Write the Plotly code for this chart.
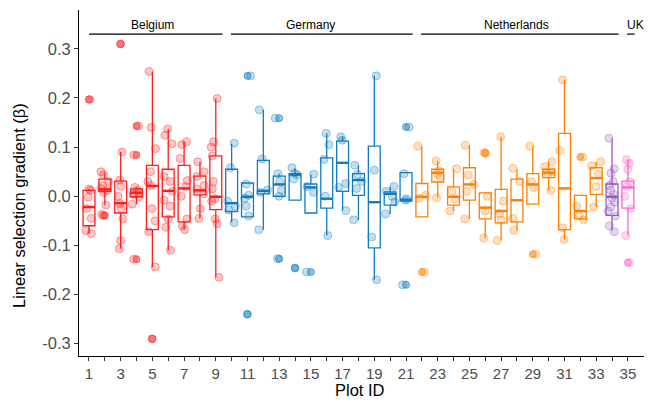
import plotly.graph_objects as go

# ---------------- data ----------------
plot_ids = list(range(1, 36))
country = (["Belgium"] * 9 + ["Germany"] * 12 + ["Netherlands"] * 12 +
           ["Netherlands*"] + ["UK"])

q1 = [-0.060, 0.010, -0.034, -0.001, -0.068, -0.042, -0.052, 0.003, -0.027,
      -0.031, -0.042, 0.005, 0.000, -0.008, -0.034, -0.024, 0.010, 0.002, -0.105, -0.018, -0.010,
      -0.042, 0.029, -0.018, -0.008, -0.046, -0.054, -0.052, -0.016, 0.038, -0.068, -0.046, 0.004,
      -0.039, -0.024]
median = [-0.022, 0.014, -0.014, 0.007, 0.021, 0.011, 0.016, 0.012, -0.001,
          -0.014, -0.001, 0.011, 0.024, 0.044, 0.018, -0.005, 0.068, 0.033, -0.012, 0.005, -0.007,
          -0.001, 0.048, -0.001, 0.024, -0.023, -0.030, -0.008, 0.024, 0.048, 0.016, -0.030, 0.037,
          -0.001, 0.018]
q3 = [0.012, 0.035, 0.031, 0.015, 0.063, 0.055, 0.063, 0.041, 0.082,
      0.055, 0.027, 0.073, 0.041, 0.046, 0.025, 0.078, 0.112, 0.046, 0.102, 0.009, 0.048,
      0.026, 0.055, 0.019, 0.058, 0.007, 0.014, 0.035, 0.046, 0.055, 0.128, 0.002, 0.058,
      0.025, 0.031]
whisker_low = [-0.076, -0.018, -0.107, -0.016, -0.144, -0.110, -0.068, -0.045, -0.165,
               -0.053, -0.042, -0.068, 0.000, -0.008, -0.034, -0.080, -0.029, -0.048, -0.170, -0.036, -0.010,
               -0.042, -0.003, -0.030, -0.046, -0.085, -0.090, -0.069, -0.016, 0.012, -0.088, -0.048, -0.022,
               -0.070, -0.080]
whisker_high = [0.015, 0.048, 0.090, 0.018, 0.254, 0.137, 0.111, 0.070, 0.199,
                0.107, 0.027, 0.176, 0.046, 0.057, 0.044, 0.128, 0.121, 0.063, 0.245, 0.020, 0.048,
                0.102, 0.072, 0.056, 0.104, 0.007, 0.121, 0.055, 0.102, 0.070, 0.237, 0.002, 0.070,
                0.118, 0.075]

points = [
    [0.197, 0.015, 0.012, -0.002, -0.025, -0.045, -0.070, -0.076],
    [0.050, 0.044, 0.030, 0.022, 0.016, 0.012, 0.008, -0.018, -0.039, -0.037],
    [0.310, 0.090, 0.033, 0.020, 0.000, -0.015, -0.025, -0.046, -0.090, -0.107],
    [0.143, 0.084, 0.018, 0.012, 0.008, 0.004, -0.001, -0.016, -0.128],
    [0.254, 0.140, 0.097, 0.050, 0.030, 0.022, -0.025, -0.050, -0.072, -0.144, -0.290],
    [0.137, 0.124, 0.107, 0.040, 0.030, 0.010, -0.008, -0.020, -0.046, -0.063, -0.110],
    [0.111, 0.105, 0.077, 0.032, 0.020, 0.000, -0.046, -0.060, -0.068],
    [0.070, 0.050, 0.040, 0.022, 0.015, 0.005, -0.025, -0.045],
    [0.199, 0.111, 0.100, 0.082, 0.030, 0.015, -0.005, -0.010, -0.046, -0.056, -0.165],
    [0.108, 0.058, -0.010, -0.020, -0.028, -0.054],
    [0.245, 0.025, 0.002, -0.004, -0.020, -0.040, -0.240],
    [0.176, 0.076, 0.013, 0.008, -0.068],
    [0.159, 0.046, 0.030, 0.012, 0.000, -0.127],
    [0.058, 0.047, 0.044, 0.035, -0.146],
    [0.045, 0.020, 0.008, -0.154],
    [0.128, 0.105, 0.075, 0.000, -0.080],
    [0.121, 0.114, 0.026, 0.018, -0.029],
    [0.063, 0.044, 0.030, 0.016, -0.048],
    [0.245, 0.053, -0.083, -0.170],
    [0.020, 0.010, 0.000, -0.012, -0.036],
    [0.141, 0.046, -0.005, -0.008, -0.180],
    [0.102, 0.002, -0.004, -0.154],
    [0.072, 0.052, 0.045, 0.040, -0.003],
    [0.056, 0.010, -0.006, -0.030],
    [0.104, 0.043, 0.024, 0.010, -0.046],
    [0.089, 0.087, 0.000, -0.030, -0.085],
    [0.121, -0.010, -0.035, -0.048, -0.090],
    [0.057, 0.030, -0.045, -0.069],
    [0.102, 0.030, 0.018, -0.118],
    [0.070, 0.060, 0.050, 0.045, 0.012],
    [0.237, 0.093, -0.064, -0.088],
    [0.080, -0.020, -0.040, -0.048],
    [0.070, 0.062, 0.045, 0.020, -0.022],
    [0.118, 0.056, 0.047, 0.030, 0.022, 0.012, 0.004, -0.004, -0.012, -0.022, -0.030, -0.040, -0.060, -0.072],
    [0.075, 0.067, 0.055, 0.030, 0.020, 0.000, -0.025, -0.080, -0.135],
]

outliers = {1: [0.197], 2: [-0.039], 3: [0.310], 4: [0.143, 0.084, -0.128], 5: [-0.290],
            11: [0.245, -0.240], 13: [0.159, -0.127], 14: [-0.146], 15: [-0.154],
            21: [0.141, -0.180], 22: [-0.154], 26: [0.088], 29: [-0.118], 32: [0.080],
            35: [-0.135]}

group_names = ["Belgium", "Germany", "Netherlands", "UK"]
group_first = [1, 10, 22, 35]
group_last = [9, 21, 34, 35]
group_label_x = [5, 15, 28, 35.5]

y_tick_vals = [-0.3, -0.2, -0.1, 0.0, 0.1, 0.2, 0.3]
y_tick_text = ["-0.3", "-0.2", "-0.1", "0.0", "0.1", "0.2", "0.3"]

x_title = "Plot ID"
y_title = "Linear selection gradient (β)"

# ---------------- style ----------------
palette = {"Belgium": (255, 28, 28), "Germany": (16, 124, 192), "Netherlands": (255, 127, 0),
           "Netherlands*": (150, 90, 192), "UK": (255, 102, 204)}
BOX_W = 0.75
OFF = 8                      # default page body margin of the browser
W, H = 652 - OFF, 407 - OFF
ML, MR, MT, MB = 79 - OFF, 0, 10 - OFF, 51
FONT = "Liberation Sans, Arial"


def rgba(c, a):
    return "rgba(%d,%d,%d,%s)" % (c[0], c[1], c[2], a)


def px_to_paper(px, py):
    # px, py: page pixel positions
    px -= OFF
    py -= OFF
    return (px - ML) / (W - ML - MR), (H - MB - py) / (H - MT - MB)


fig = go.Figure()

for key, col in palette.items():
    idx = [i for i, c in enumerate(country) if c == key]
    if not idx:
        continue
    xs, ys = [], []
    for i in idx:
        for v in points[i]:
            xs.append(plot_ids[i])
            ys.append(v)
    fig.add_trace(go.Box(
        x=xs, y=ys, boxpoints="all", jitter=0.8, pointpos=0, width=BOX_W,
        line=dict(width=0, color="rgba(0,0,0,0)"), fillcolor="rgba(0,0,0,0)",
        marker=dict(size=8, color=rgba(col, 0.25), line=dict(color=rgba(col, 0.38), width=1)),
        showlegend=False, hoverinfo="y"))
    ox, oy = [], []
    for i in idx:
        for v in outliers.get(plot_ids[i], []):
            ox.append(plot_ids[i])
            oy.append(v)
    if ox:
        fig.add_trace(go.Scatter(
            x=ox, y=oy, mode="markers",
            marker=dict(size=7, color=rgba(col, 0.45), line=dict(color=rgba(col, 0.6), width=1)),
            showlegend=False))
    fig.add_trace(go.Box(
        x=[plot_ids[i] for i in idx],
        q1=[q1[i] for i in idx], median=[median[i] for i in idx], q3=[q3[i] for i in idx],
        lowerfence=[whisker_low[i] for i in idx], upperfence=[whisker_high[i] for i in idx],
        boxpoints=False, width=BOX_W, whiskerwidth=0,
        line=dict(color=rgba(col, 1), width=1.3), fillcolor="rgba(255,255,255,0)",
        showlegend=False))
    mx, my = [], []
    for i in idx:
        mx += [plot_ids[i] - BOX_W / 2, plot_ids[i] + BOX_W / 2, None]
        my += [median[i], median[i], None]
    fig.add_trace(go.Scatter(x=mx, y=my, mode="lines",
                             line=dict(color=rgba(col, 1), width=2.4),
                             showlegend=False, hoverinfo="skip"))

for name, a, b, lx in zip(group_names, group_first, group_last, group_label_x):
    fig.add_shape(type="line", xref="x", yref="y", x0=a - (0 if a == 1 else 0.05), x1=b + 0.42,
                  y0=0.33, y1=0.33, line=dict(color="black", width=1.2))
    fig.add_annotation(x=lx, y=0.331, xref="x", yref="y", text=name, showarrow=False,
                       yanchor="bottom", font=dict(family=FONT, size=12, color="black"))

tx, ty = px_to_paper(360, 390)
fig.add_annotation(x=tx, y=ty, xref="paper", yref="paper", text=x_title, showarrow=False,
                   xanchor="center", yanchor="middle",
                   font=dict(family=FONT, size=16.5, color="black"))
tx, ty = px_to_paper(19, 206)
fig.add_annotation(x=tx, y=ty, xref="paper", yref="paper", text=y_title, showarrow=False,
                   textangle=-90, xanchor="center", yanchor="middle",
                   font=dict(family=FONT, size=16.5, color="black"))

fig.update_layout(
    width=W, height=H,
    margin=dict(l=ML, r=MR, t=MT, b=MB, autoexpand=False),
    paper_bgcolor="white", plot_bgcolor="white",
    boxmode="overlay",
    font=dict(family=FONT, color="#4D4D4D"),
    showlegend=False,
)
fig.update_xaxes(
    range=[0.37, 36.52], showgrid=False, zeroline=False, automargin=False,
    showline=True, linecolor="black", linewidth=1,
    ticks="outside", ticklen=4, tickcolor="#333333",
    tickvals=plot_ids, ticktext=[str(i) if i % 2 == 1 else "" for i in plot_ids],
    tickfont=dict(size=15, color="#4D4D4D"),
)
fig.update_yaxes(
    range=[-0.325, 0.379], showgrid=False, zeroline=False, automargin=False,
    showline=True, linecolor="black", linewidth=1,
    ticks="outside", ticklen=4, tickcolor="#333333",
    tickvals=y_tick_vals, ticktext=y_tick_text,
    tickfont=dict(size=16.5, color="#4D4D4D"),
)

fig.write_html("out.html")
